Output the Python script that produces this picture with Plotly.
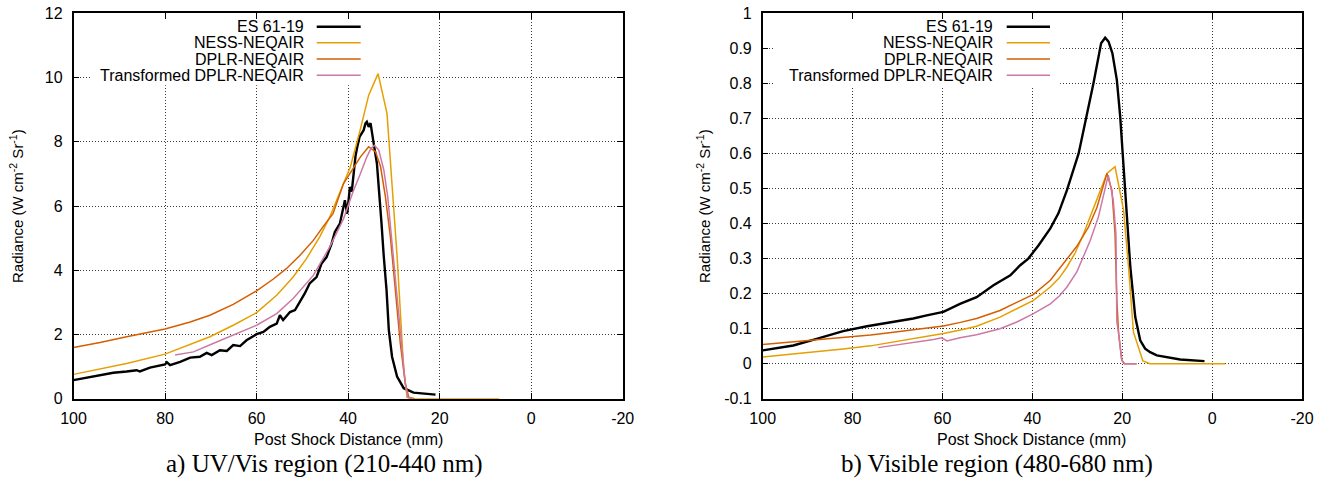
import plotly.graph_objects as go

# ---------------- data: post shock distance (mm) vs radiance (W cm-2 Sr-1) ----------------
# a) UV/Vis region (210-440 nm)
uv_es_x = [100, 97.1, 95.6, 93.5, 91.3, 88.4, 86.2, 85.5, 83.3, 80.0, 79.6, 78.9, 76.7, 74.5,
           72.4, 70.9, 69.8, 68.0, 66.5, 65.1, 63.6, 62.2, 60.0, 58.5, 57.1, 55.6, 54.9, 54.2,
           52.7, 51.6, 50.5, 49.5, 48.4, 46.9, 45.8, 44.7, 43.6, 42.9, 41.8, 40.7, 40.2, 39.6,
           39.2, 38.8, 38.4, 38.0, 37.5, 36.6, 36.2, 35.9, 35.5, 35.1, 34.8, 34.4, 33.7, 33.2,
           32.7, 32.2, 31.6, 31.1, 30.4, 29.3, 27.85, 25.7, 22.7, 20.9]
uv_es_y = [0.58, 0.66, 0.70, 0.77, 0.81, 0.85, 0.89, 0.85, 0.97, 1.07, 1.14, 1.05, 1.15, 1.28,
           1.31, 1.43, 1.36, 1.51, 1.49, 1.67, 1.64, 1.82, 2.01, 2.08, 2.24, 2.34, 2.60, 2.45,
           2.70, 2.76, 3.02, 3.27, 3.59, 3.79, 4.21, 4.41, 4.83, 5.19, 5.45, 6.18, 5.76, 6.59,
           6.45, 7.12, 7.53, 7.84, 8.15, 8.36, 8.57, 8.62, 8.46, 8.58, 8.26, 7.94, 7.32, 6.49,
           5.46, 4.42, 3.38, 2.14, 1.31, 0.69, 0.33, 0.19, 0.15, 0.13]

uv_ness_x = [100, 88.4, 80.0, 74.5, 70.2, 65.1, 60.0, 55.6, 52.0, 49.1, 46.2, 44.0, 42.5,
             40.7, 39.5, 37.3, 35.5, 33.45, 31.5, 29.3, 27.85, 27.1, 26.5, 7.0]
uv_ness_y = [0.76, 1.10, 1.39, 1.68, 1.93, 2.29, 2.68, 3.22, 3.79, 4.36, 5.04, 5.66, 6.18,
             6.80, 7.22, 8.40, 9.45, 10.12, 8.88, 4.45, 0.90, 0.05, 0.0, 0.0]

uv_dplr_x = [100, 94.2, 88.4, 80.0, 74.5, 70.2, 65.1, 60.0, 56.4, 53.5, 50.5, 47.6, 45.5,
             43.3, 41.0, 37.3, 35.5, 34.0, 32.9, 31.85, 30.76, 29.7, 28.6, 27.5, 26.75, 25.5]
uv_dplr_y = [1.60, 1.75, 1.93, 2.17, 2.39, 2.60, 2.94, 3.36, 3.72, 4.05, 4.47, 4.93, 5.35,
             5.76, 6.70, 7.53, 7.84, 7.69, 7.22, 6.29, 5.04, 3.38, 1.73, 0.48, 0.05, 0.0]

uv_trans_x = [77.8, 73.8, 69.5, 64.4, 60.0, 55.6, 52.0, 47.6, 44.0, 41.0, 38.9, 37.3, 35.9,
              35.0, 34.25, 33.3, 32.2, 31.35, 30.4, 29.3, 28.2, 27.5, 27.0, 26.0]
uv_trans_y = [1.36, 1.46, 1.72, 2.03, 2.29, 2.65, 3.12, 3.84, 4.73, 5.60, 6.45, 7.01, 7.53,
              7.79, 7.89, 7.74, 7.12, 6.29, 4.94, 3.18, 1.52, 0.48, 0.05, 0.0]

# b) Visible region (480-680 nm)
vis_es_x = [100, 93.2, 88.0, 82.1, 76.8, 70.9, 66.5, 63.5, 59.8, 56.1, 52.4, 48.65, 44.9,
            42.7, 40.9, 38.6, 36.0, 34.2, 32.3, 29.7, 27.9, 26.4, 24.7, 23.8, 23.05, 22.2,
            21.2, 20.45, 19.7, 18.95, 18.2, 17.1, 16.0, 14.9, 13.8, 12.3, 7.1, 1.7]
vis_es_y = [0.038, 0.052, 0.071, 0.093, 0.107, 0.119, 0.129, 0.138, 0.148, 0.171, 0.190,
            0.224, 0.252, 0.281, 0.300, 0.338, 0.386, 0.429, 0.495, 0.600, 0.705, 0.800,
            0.914, 0.930, 0.919, 0.886, 0.810, 0.705, 0.562, 0.419, 0.276, 0.133, 0.067,
            0.043, 0.033, 0.024, 0.012, 0.0076]

vis_ness_x = [100, 89.5, 82.1, 76.0, 70.9, 65.0, 59.8, 56.0, 52.4, 47.2, 43.45, 39.75, 36.0,
              34.0, 32.3, 30.4, 28.6, 25.65, 23.4, 21.6, 19.7, 18.6, 17.5, 15.4, 13.8, -2.9]
vis_ness_y = [0.019, 0.032, 0.042, 0.051, 0.062, 0.073, 0.086, 0.096, 0.107, 0.133, 0.157,
              0.181, 0.219, 0.245, 0.276, 0.318, 0.371, 0.467, 0.543, 0.562, 0.438, 0.276,
              0.090, 0.008, 0.0, 0.0]

vis_dplr_x = [100, 89.5, 82.1, 76.0, 70.9, 65.0, 59.8, 56.0, 52.4, 47.2, 43.45, 39.75, 36.0,
              33.1, 30.1, 27.5, 25.65, 23.4, 22.3, 21.6, 21.2, 20.8, 20.1, 19.5, 16.8]
vis_dplr_y = [0.055, 0.067, 0.074, 0.082, 0.090, 0.099, 0.108, 0.118, 0.129, 0.152, 0.176,
              0.198, 0.238, 0.286, 0.335, 0.390, 0.445, 0.543, 0.495, 0.371, 0.181, 0.086,
              0.010, 0.0, 0.0]

vis_trans_x = [74.3, 70.9, 65.0, 62.0, 60.15, 59.0, 56.1, 52.4, 47.2, 43.45, 39.75, 36.0,
               34.0, 32.3, 30.1, 28.6, 27.1, 25.3, 23.8, 23.1, 22.0, 21.4, 21.2, 20.8, 20.1,
               19.5, 16.8]
vis_trans_y = [0.046, 0.052, 0.062, 0.069, 0.074, 0.065, 0.074, 0.083, 0.100, 0.119, 0.143,
               0.171, 0.193, 0.219, 0.262, 0.305, 0.352, 0.419, 0.495, 0.538, 0.467, 0.371,
               0.120, 0.086, 0.010, 0.0, 0.0]

# tick values and labels
x_tickvals = [100, 80, 60, 40, 20, 0, -20]
x_ticktext = ["100", "80", "60", "40", "20", "0", "-20"]
uv_tickvals = [0, 2, 4, 6, 8, 10, 12]
uv_ticktext = ["0", "2", "4", "6", "8", "10", "12"]
vis_tickvals = [-0.1, 0, 0.1, 0.2, 0.3, 0.4, 0.5, 0.6, 0.7, 0.8, 0.9, 1.0]
vis_ticktext = ["-0.1", "0", "0.1", "0.2", "0.3", "0.4", "0.5", "0.6", "0.7", "0.8", "0.9", "1"]

series_names = ["ES 61-19", "NESS-NEQAIR", "DPLR-NEQAIR", "Transformed DPLR-NEQAIR"]
series_colors = ["#000000", "#E69F00", "#D55E00", "#CC79A7"]
series_widths = [2.4, 1.5, 1.5, 1.5]

captions = ["a) UV/Vis region (210-440 nm)", "b) Visible region (480-680 nm)"]

# ---------------- figure ----------------
W, H = 1328, 485
SANS = "Liberation Sans, Arial, Helvetica, sans-serif"
SERIF = "Liberation Serif, Times New Roman, serif"


def px(x):
    return x / W


def py(y):
    return 1 - y / H


fig = go.Figure()

panels = [
    ("x", "y", [uv_es_x, uv_ness_x, uv_dplr_x, uv_trans_x],
     [uv_es_y, uv_ness_y, uv_dplr_y, uv_trans_y]),
    ("x2", "y2", [vis_es_x, vis_ness_x, vis_dplr_x, vis_trans_x],
     [vis_es_y, vis_ness_y, vis_dplr_y, vis_trans_y]),
]
for xa, ya, xs, ys in panels:
    for name, color, width, xv, yv in zip(series_names, series_colors, series_widths, xs, ys):
        fig.add_trace(go.Scatter(x=xv, y=yv, mode="lines", name=name, showlegend=False,
                                 xaxis=xa, yaxis=ya,
                                 line=dict(color=color, width=width)))

y_dom = [py(398.8), py(13.2)]
x1_dom = [px(73.5), px(622.7)]
x2_dom = [px(762.7), px(1302.0)]

common = dict(showline=True, linecolor="black", linewidth=1.5, mirror="allticks",
              ticks="inside", ticklen=6, tickwidth=1, tickcolor="black",
              showgrid=True, gridcolor="#3a3a3a", griddash="1px,2px", gridwidth=1,
              zeroline=False, automargin=False,
              tickfont=dict(family=SANS, size=16, color="black"))

fig.update_layout(
    width=W, height=H, margin=dict(l=0, r=0, t=0, b=0, pad=0, autoexpand=False),
    paper_bgcolor="white", plot_bgcolor="white", showlegend=False,
    xaxis=dict(domain=x1_dom, anchor="y", range=[100, -20], tickvals=x_tickvals,
               ticktext=x_ticktext, ticklabelstandoff=4, **common),
    yaxis=dict(domain=y_dom, anchor="x", range=[0, 12], tickvals=uv_tickvals,
               ticktext=uv_ticktext, ticklabelstandoff=6, **common),
    xaxis2=dict(domain=x2_dom, anchor="y2", range=[100, -20], tickvals=x_tickvals,
                ticktext=x_ticktext, ticklabelstandoff=4, **common),
    yaxis2=dict(domain=y_dom, anchor="x2", range=[-0.1, 1.0], tickvals=vis_tickvals,
                ticktext=vis_ticktext, ticklabelstandoff=6, **common),
)

shapes = []
annotations = []

# keys: text right-aligned, sample line to its right
row_y = [26.7, 42.7, 59.0, 75.3]
for text_right, line_x0, line_x1 in [(306, 316.7, 360.7), (995, 1006.7, 1050.0)]:
    for name, color, width, yy in zip(series_names, series_colors, series_widths, row_y):
        annotations.append(dict(x=px(text_right), y=py(yy), xref="paper", yref="paper",
                                text=name, showarrow=False, xanchor="right", yanchor="middle",
                                font=dict(family=SANS, size=16, color="black")))
        shapes.append(dict(type="line", xref="paper", yref="paper",
                           x0=px(line_x0), x1=px(line_x1), y0=py(yy), y1=py(yy),
                           line=dict(color=color, width=width)))

# opaque key boxes hide the grid behind each key (between grid and traces)
for xr, yr, x0, x1, y0, y1 in [("x", "y", 96.4, 32.5, 9.76, 11.96),
                               ("x2", "y2", 97.3, 33.8, 0.792, 0.995)]:
    shapes.append(dict(type="rect", xref=xr, yref=yr, x0=x0, x1=x1, y0=y0, y1=y1,
                       fillcolor="white", line=dict(width=0), layer="between"))

# axis titles
ytitle = "Radiance (W cm<sup>-2</sup> Sr<sup>-1</sup>)"
for xc in [16, 703]:
    annotations.append(dict(x=px(xc), y=py(206), xref="paper", yref="paper", text=ytitle,
                            showarrow=False, textangle=-90, xanchor="center", yanchor="middle",
                            font=dict(family=SANS, size=15, color="black")))
for xc in [348, 1031]:
    annotations.append(dict(x=px(xc), y=py(439), xref="paper", yref="paper",
                            text="Post Shock Distance (mm)", showarrow=False,
                            xanchor="center", yanchor="middle",
                            font=dict(family=SANS, size=16, color="black")))

# panel captions
for xc, cap in zip([324, 997], captions):
    annotations.append(dict(x=px(xc), y=py(464), xref="paper", yref="paper", text=cap,
                            showarrow=False, xanchor="center", yanchor="middle",
                            font=dict(family=SERIF, size=25, color="black")))

fig.update_layout(shapes=shapes, annotations=annotations)

fig.write_html("out.html")
